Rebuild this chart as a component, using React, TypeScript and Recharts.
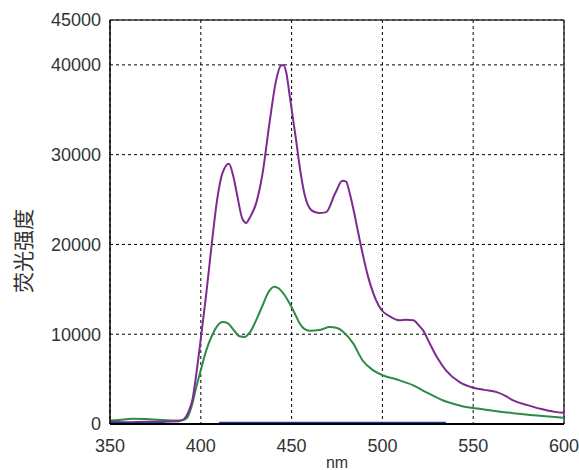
import { LineChart, Line, XAxis, YAxis, CartesianGrid, ReferenceLine, Label } from 'recharts';

// wavelength (nm) / intensity pairs
const purpleNm = [350, 360, 370, 380, 388, 391, 393.5, 395.5, 397, 400, 403, 406, 409, 412, 415.5, 418, 420, 423, 425, 427, 430.5, 434, 438, 441.5, 444, 445.5, 447, 449, 452.5, 454.5, 457, 461, 465, 469, 474, 478, 480, 482, 485, 487.5, 492, 496.5, 499.5, 504, 509.5, 513, 517, 520, 522.5, 526, 530, 535, 542.5, 550, 556, 563, 568, 572, 580, 587, 595, 600];
const purpleVal = [250, 200, 250, 250, 300, 600, 1500, 2800, 4800, 9500, 14500, 20000, 25000, 28000, 29000, 27500, 25500, 22800, 22400, 23000, 24600, 27900, 33800, 38300, 39900, 40000, 39200, 36500, 31600, 28600, 25700, 23800, 23500, 23600, 25700, 27100, 27000, 25700, 23000, 20500, 16500, 13800, 12700, 12000, 11550, 11600, 11550, 11000, 10400, 9000, 7450, 5970, 4660, 4040, 3800, 3550, 3100, 2620, 2100, 1690, 1350, 1250];

const greenNm = [350, 355, 362, 370, 377, 388, 391, 392.5, 395, 397.5, 400, 403, 406.5, 409, 412, 415, 418, 421, 424, 427, 431, 434, 437, 440.5, 443, 446, 449, 452, 454.5, 457, 460, 466, 471, 475, 478.5, 484, 489, 495, 500.5, 508, 517, 524, 533.5, 539, 544.5, 553.5, 562, 572, 585, 600];
const greenVal = [400, 450, 580, 550, 470, 390, 500, 700, 2000, 4100, 6000, 8200, 10000, 10900, 11350, 11200, 10500, 9800, 9680, 10200, 11800, 13200, 14600, 15300, 15100, 14400, 13400, 12200, 11200, 10600, 10400, 10500, 10800, 10700, 10250, 8950, 7100, 5970, 5400, 4950, 4300, 3550, 2620, 2250, 1950, 1690, 1450, 1210, 950, 700];

const blueNm = [350, 380, 395, 410, 535];
const blueVal: (number | null)[] = [80, 80, null, 150, 150];

const xTicks = [350, 400, 450, 500, 550, 600];
const yTicks = [0, 10000, 20000, 30000, 40000, 45000];

const toRows = (xs: number[], ys: (number | null)[]) => xs.map((nm, i) => ({ nm, v: ys[i] }));

const tickStyle = { fill: '#333', fontSize: 18, fontFamily: '"Liberation Sans", Arial, sans-serif' };

export default function App() {
  const purple = toRows(purpleNm, purpleVal);
  const green = toRows(greenNm, greenVal);
  const blue = toRows(blueNm, blueVal);

  return (
    <div style={{ position: 'absolute', left: 0, top: 0, width: 579, height: 470, background: '#fff' }}>
      <LineChart width={579} height={470} margin={{ top: 20, right: 15, left: 0, bottom: 0 }}>
        <CartesianGrid stroke="#000" strokeDasharray="3 3" strokeWidth={1} />
        <XAxis
          dataKey="nm"
          type="number"
          domain={[350, 600]}
          ticks={xTicks}
          allowDuplicatedCategory={false}
          height={46}
          tickLine={false}
          tickSize={6}
          tickMargin={9}
          axisLine={{ stroke: '#000', strokeWidth: 2 }}
          tick={tickStyle}
        >
          <Label
            value="nm"
            position="insideBottom"
            offset={2}
            style={{ fill: '#333', fontSize: 16, fontFamily: '"Liberation Sans", Arial, sans-serif' }}
          />
        </XAxis>
        <YAxis
          type="number"
          domain={[0, 45000]}
          ticks={yTicks}
          width={110}
          tickLine={false}
          tickSize={6}
          tickMargin={3}
          axisLine={{ stroke: '#000', strokeWidth: 1.5 }}
          tick={tickStyle}
        >
          <Label
            content={() => (
              <text
                x={22}
                y={251}
                transform="rotate(-90 22 251)"
                textAnchor="middle"
                dominantBaseline="central"
                fill="#333"
                fontSize={21}
                fontFamily='"Noto Sans CJK SC", sans-serif'
              >
                荧光强度
              </text>
            )}
          />
        </YAxis>
        <ReferenceLine y={45000} stroke="#333" strokeWidth={1.5} />
        <ReferenceLine x={600} stroke="#333" strokeWidth={1.5} />
        <Line data={green} type="monotone" dataKey="v" stroke="#2e8b47" strokeWidth={2} dot={false} isAnimationActive={false} />
        <Line data={purple} type="monotone" dataKey="v" stroke="#7f2a90" strokeWidth={2} dot={false} isAnimationActive={false} />
        <Line data={blue} dataKey="v" stroke="#1f3b9a" strokeWidth={2} dot={false} isAnimationActive={false} />
      </LineChart>
    </div>
  );
}
